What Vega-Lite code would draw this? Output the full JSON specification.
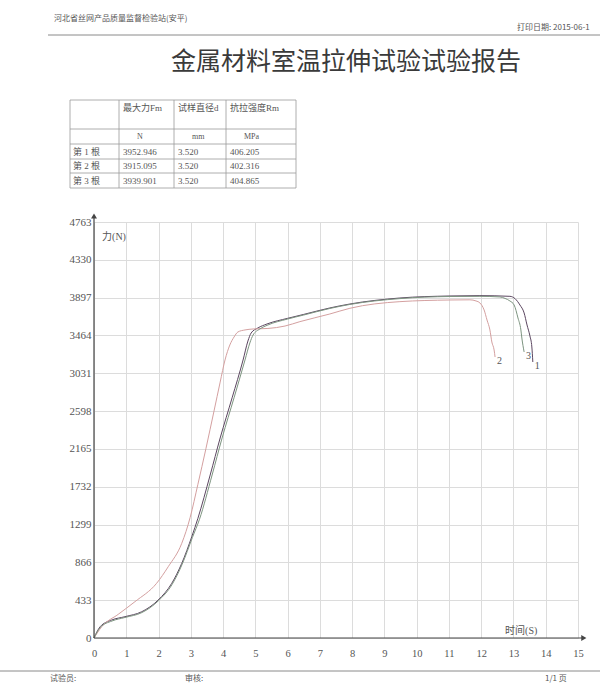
{
  "$schema": "https://vega.github.io/schema/vega-lite/v6.json",
  "width": 484,
  "height": 416,
  "autosize": {"type": "none"},
  "padding": {"left": 94, "top": 222, "right": 22, "bottom": 62},
  "background": "white",
  "config": {"view": {"stroke": null}},
  "datasets": {
    "曲线": [
      {"试样": "1", "t": 0, "F": 0}, {"试样": "1", "t": 0.19, "F": 129}, {"试样": "1", "t": 0.55, "F": 206}, {"试样": "1", "t": 0.96, "F": 244},
      {"试样": "1", "t": 1.48, "F": 301}, {"试样": "1", "t": 1.99, "F": 435}, {"试样": "1", "t": 2.41, "F": 626}, {"试样": "1", "t": 2.72, "F": 855},
      {"试样": "1", "t": 3.03, "F": 1160}, {"试样": "1", "t": 3.22, "F": 1370}, {"试样": "1", "t": 3.6, "F": 1866}, {"试样": "1", "t": 3.91, "F": 2290},
      {"试样": "1", "t": 4.28, "F": 2750}, {"试样": "1", "t": 4.62, "F": 3183}, {"试样": "1", "t": 4.77, "F": 3400}, {"试样": "1", "t": 4.87, "F": 3492},
      {"试样": "1", "t": 5.08, "F": 3550}, {"试样": "1", "t": 5.36, "F": 3595}, {"试样": "1", "t": 6.0, "F": 3660}, {"试样": "1", "t": 6.5, "F": 3705},
      {"试样": "1", "t": 7.31, "F": 3779}, {"试样": "1", "t": 7.93, "F": 3824}, {"试样": "1", "t": 9.48, "F": 3893}, {"试样": "1", "t": 11.03, "F": 3916},
      {"试样": "1", "t": 11.96, "F": 3920}, {"试样": "1", "t": 12.89, "F": 3912}, {"试样": "1", "t": 13.05, "F": 3885}, {"试样": "1", "t": 13.2, "F": 3813},
      {"试样": "1", "t": 13.33, "F": 3722}, {"试样": "1", "t": 13.42, "F": 3584}, {"试样": "1", "t": 13.51, "F": 3458}, {"试样": "1", "t": 13.57, "F": 3332},
      {"试样": "1", "t": 13.6, "F": 3160},
      {"试样": "2", "t": 0, "F": 0}, {"试样": "2", "t": 0.24, "F": 129}, {"试样": "2", "t": 0.75, "F": 271}, {"试样": "2", "t": 1.27, "F": 416},
      {"试样": "2", "t": 1.94, "F": 626}, {"试样": "2", "t": 2.3, "F": 816}, {"试样": "2", "t": 2.72, "F": 1084}, {"试样": "2", "t": 2.98, "F": 1380},
      {"试样": "2", "t": 3.22, "F": 1760}, {"试样": "2", "t": 3.47, "F": 2170}, {"试样": "2", "t": 3.72, "F": 2600}, {"试样": "2", "t": 3.91, "F": 2930},
      {"试样": "2", "t": 4.06, "F": 3183}, {"试样": "2", "t": 4.21, "F": 3355}, {"试样": "2", "t": 4.34, "F": 3446}, {"试样": "2", "t": 4.46, "F": 3504},
      {"试样": "2", "t": 4.68, "F": 3527}, {"试样": "2", "t": 4.93, "F": 3538}, {"试样": "2", "t": 5.39, "F": 3544}, {"试样": "2", "t": 5.92, "F": 3572},
      {"试样": "2", "t": 6.38, "F": 3622}, {"试样": "2", "t": 7.31, "F": 3710}, {"试样": "2", "t": 7.93, "F": 3775}, {"试样": "2", "t": 9.48, "F": 3851},
      {"试样": "2", "t": 11.03, "F": 3870}, {"试样": "2", "t": 11.65, "F": 3872}, {"试样": "2", "t": 11.84, "F": 3859}, {"试样": "2", "t": 11.96, "F": 3836},
      {"试样": "2", "t": 12.09, "F": 3756}, {"试样": "2", "t": 12.18, "F": 3641}, {"试样": "2", "t": 12.27, "F": 3527}, {"试样": "2", "t": 12.33, "F": 3389},
      {"试样": "2", "t": 12.4, "F": 3298}, {"试样": "2", "t": 12.43, "F": 3217},
      {"试样": "3", "t": 0, "F": 0}, {"试样": "3", "t": 0.19, "F": 120}, {"试样": "3", "t": 0.56, "F": 195}, {"试样": "3", "t": 0.96, "F": 235},
      {"试样": "3", "t": 1.49, "F": 292}, {"试样": "3", "t": 1.99, "F": 424}, {"试样": "3", "t": 2.42, "F": 613}, {"试样": "3", "t": 2.73, "F": 842},
      {"试样": "3", "t": 3.05, "F": 1151}, {"试样": "3", "t": 3.27, "F": 1360}, {"试样": "3", "t": 3.66, "F": 1866}, {"试样": "3", "t": 3.97, "F": 2290},
      {"试样": "3", "t": 4.34, "F": 2750}, {"试样": "3", "t": 4.68, "F": 3183}, {"试样": "3", "t": 4.83, "F": 3378}, {"试样": "3", "t": 4.93, "F": 3469},
      {"试样": "3", "t": 5.14, "F": 3538}, {"试样": "3", "t": 5.39, "F": 3584}, {"试样": "3", "t": 6.0, "F": 3652}, {"试样": "3", "t": 6.5, "F": 3698},
      {"试样": "3", "t": 7.31, "F": 3773}, {"试样": "3", "t": 7.93, "F": 3819}, {"试样": "3", "t": 9.48, "F": 3886}, {"试样": "3", "t": 11.03, "F": 3910},
      {"试样": "3", "t": 11.96, "F": 3912}, {"试样": "3", "t": 12.58, "F": 3905}, {"试样": "3", "t": 12.74, "F": 3888}, {"试样": "3", "t": 12.89, "F": 3859},
      {"试样": "3", "t": 13.02, "F": 3813}, {"试样": "3", "t": 13.14, "F": 3664}, {"试样": "3", "t": 13.23, "F": 3527}, {"试样": "3", "t": 13.26, "F": 3435},
      {"试样": "3", "t": 13.33, "F": 3275}
    ]
  },
  "layer": [
    {
      "layer": [
        {
          "data": {"name": "曲线"},
          "mark": {"type": "line", "strokeWidth": 1, "interpolate": "monotone"},
          "encoding": {
            "x": {
              "field": "t", "type": "quantitative",
              "scale": {"domain": [0, 15], "nice": false, "zero": false},
              "axis": {
                "values": [0, 1, 2, 3, 4, 5, 6, 7, 8, 9, 10, 11, 12, 13, 14, 15], "tickCount": 40,
                "format": "d", "title": null, "grid": true, "gridColor": "#dcdcdc", "gridWidth": 1,
                "domain": false, "ticks": false, "tickSize": 0, "labelPadding": 10, "labelOverlap": false, "labelBound": false, "labelFlush": false,
                "labelFont": "Liberation Serif", "labelFontSize": 10.5, "labelColor": "#555"
              }
            },
            "y": {
              "field": "F", "type": "quantitative",
              "scale": {"domain": [0, 4763], "nice": false, "zero": false},
              "axis": {
                "values": [0, 433, 866, 1299, 1732, 2165, 2598, 3031, 3464, 3897, 4330, 4763], "tickCount": 40,
                "format": "d", "title": null, "grid": true, "gridColor": "#dcdcdc", "gridWidth": 1,
                "domain": false, "ticks": false, "tickSize": 0, "labelPadding": 3, "labelOverlap": false, "labelBound": false, "labelFlush": false,
                "labelFont": "Liberation Serif", "labelFontSize": 11, "labelColor": "#555"
              }
            },
            "color": {
              "field": "试样", "type": "nominal",
              "scale": {"domain": ["1", "2", "3"], "range": ["#5b4660", "#d4a0a0", "#7d9480"]},
              "legend": null
            }
          }
        },
        {
          "data": {"name": "曲线"},
          "transform": [{"aggregate": [{"op": "argmax", "field": "t", "as": "末"}], "groupby": ["试样"]}],
          "mark": {"type": "text", "align": "left", "baseline": "middle", "dx": 2, "dy": 4, "font": "Liberation Serif", "fontSize": 10, "color": "#555"},
          "encoding": {
            "x": {"field": "末.t", "type": "quantitative", "axis": {"title": null}},
            "y": {"field": "末.F", "type": "quantitative", "axis": {"title": null}},
            "text": {"field": "试样"}
          }
        },
        {
          "data": {"values": [{}]},
          "mark": {"type": "rule", "color": "#444", "strokeWidth": 1.2},
          "encoding": {"x": {"datum": 0}, "y": {"datum": 0}, "y2": {"datum": 4830}}
        },
        {
          "data": {"values": [{}]},
          "mark": {"type": "rule", "color": "#444", "strokeWidth": 1.2},
          "encoding": {"y": {"datum": 0}, "x": {"datum": 0}, "x2": {"datum": 15.15}}
        },
        {
          "data": {"values": [{}]},
          "mark": {"type": "point", "shape": "triangle-up", "filled": true, "size": 35, "color": "#444", "opacity": 1},
          "encoding": {"x": {"datum": 0}, "y": {"datum": 4832}}
        },
        {
          "data": {"values": [{}]},
          "mark": {"type": "point", "shape": "triangle-right", "filled": true, "size": 35, "color": "#444", "opacity": 1},
          "encoding": {"x": {"datum": 15.18}, "y": {"datum": 0}}
        },
        {
          "data": {"values": [{"文本": "力(N)"}]},
          "mark": {"type": "text", "align": "left", "baseline": "middle", "font": "Liberation Serif, Noto Sans CJK SC", "fontSize": 10, "color": "#555"},
          "encoding": {"x": {"datum": 0.25}, "y": {"datum": 4591}, "text": {"field": "文本"}}
        },
        {
          "data": {"values": [{"文本": "时间(S)"}]},
          "mark": {"type": "text", "align": "left", "baseline": "middle", "font": "Liberation Serif, Noto Sans CJK SC", "fontSize": 10, "color": "#555"},
          "encoding": {"x": {"datum": 12.74}, "y": {"datum": 80}, "text": {"field": "文本"}}
        }
      ]
    },
    {
      "layer": [
        {
          "data": {"values": [{"竖": 0}, {"竖": 1}, {"竖": 2}, {"竖": 3}, {"竖": 4}]},
          "mark": {"type": "rule", "color": "#9a9a9a", "strokeWidth": 0.8},
          "encoding": {
            "x": {"field": "竖", "type": "quantitative", "scale": {"domain": [0, 1, 2, 3, 4], "range": [-24, 25, 80, 132, 202], "nice": false, "zero": false}, "axis": null},
            "y": {"datum": 0, "scale": {"domain": [0, 1, 2, 3, 4, 5], "range": [-122, -93, -78, -63, -49, -34], "nice": false, "zero": false}, "axis": null},
            "y2": {"datum": 5}
          }
        },
        {
          "data": {"values": [{"横": 0}, {"横": 1}, {"横": 2}, {"横": 3}, {"横": 4}, {"横": 5}]},
          "mark": {"type": "rule", "color": "#9a9a9a", "strokeWidth": 0.8},
          "encoding": {
            "y": {"field": "横", "type": "quantitative", "scale": {"domain": [0, 1, 2, 3, 4, 5], "range": [-122, -93, -78, -63, -49, -34], "nice": false, "zero": false}, "axis": null},
            "x": {"datum": 0, "scale": {"domain": [0, 1, 2, 3, 4], "range": [-24, 25, 80, 132, 202], "nice": false, "zero": false}, "axis": null},
            "x2": {"datum": 4}
          }
        }
      ]
    },
    {
      "layer": [
        {
          "data": {"values": [
            {"行": 0, "列": 1, "文本": "最大力Fm"}, {"行": 0, "列": 2, "文本": "试样直径d"}, {"行": 0, "列": 3, "文本": "抗拉强度Rm"},
            {"行": 2, "列": 0, "文本": "第 1 根"}, {"行": 2, "列": 1, "文本": "3952.946"}, {"行": 2, "列": 2, "文本": "3.520"}, {"行": 2, "列": 3, "文本": "406.205"},
            {"行": 3, "列": 0, "文本": "第 2 根"}, {"行": 3, "列": 1, "文本": "3915.095"}, {"行": 3, "列": 2, "文本": "3.520"}, {"行": 3, "列": 3, "文本": "402.316"},
            {"行": 4, "列": 0, "文本": "第 3 根"}, {"行": 4, "列": 1, "文本": "3939.901"}, {"行": 4, "列": 2, "文本": "3.520"}, {"行": 4, "列": 3, "文本": "404.865"}
          ]},
          "mark": {"type": "text", "align": "left", "baseline": "middle", "font": "Liberation Serif, Noto Sans CJK SC", "fontSize": 9, "color": "#555"},
          "encoding": {
            "x": {"field": "列", "type": "quantitative", "scale": {"domain": [0, 1, 2, 3], "range": [-21, 29, 84, 136], "nice": false, "zero": false}, "axis": null},
            "y": {"field": "行", "type": "quantitative", "scale": {"domain": [0, 1, 2, 3, 4], "range": [-114, -85.5, -70.5, -56, -41.5], "nice": false, "zero": false}, "axis": null},
            "text": {"field": "文本"}
          }
        },
        {
          "data": {"values": [{"行": 1, "列": 1, "文本": "N"}, {"行": 1, "列": 2, "文本": "mm"}, {"行": 1, "列": 3, "文本": "MPa"}]},
          "mark": {"type": "text", "align": "left", "baseline": "middle", "dx": 14, "font": "Liberation Serif", "fontSize": 8, "color": "#555"},
          "encoding": {
            "x": {"field": "列", "type": "quantitative", "scale": {"domain": [0, 1, 2, 3], "range": [-21, 29, 84, 136], "nice": false, "zero": false}, "axis": null},
            "y": {"field": "行", "type": "quantitative", "scale": {"domain": [0, 1, 2, 3, 4], "range": [-114, -85.5, -70.5, -56, -41.5], "nice": false, "zero": false}, "axis": null},
            "text": {"field": "文本"}
          }
        }
      ]
    },
    {
      "layer": [
        {
          "data": {"values": [
            {"位": 0, "文本": "河北省丝网产品质量监督检验站(安平)"},
            {"位": 1, "文本": "打印日期: 2015-06-1"},
            {"位": 3, "文本": "试验员:"},
            {"位": 4, "文本": "审核:"},
            {"位": 5, "文本": "1/1 页"}
          ]},
          "mark": {"type": "text", "align": "left", "baseline": "middle", "font": "Noto Sans CJK SC", "fontSize": 8, "color": "#555"},
          "encoding": {
            "x": {"field": "位", "type": "quantitative", "scale": {"domain": [0, 1, 2, 3, 4, 5, 6, 7, 8, 9], "range": [-40, 423, 252, -44, 91, 451, -46, 506, -94, 506], "nice": false, "zero": false}, "axis": null},
            "y": {"field": "位", "type": "quantitative", "scale": {"domain": [0, 1, 2, 3, 4, 5, 6, 7, 8, 9], "range": [-203, -194, -160, 457, 457, 457, -187, -187, 449, 449], "nice": false, "zero": false}, "axis": null},
            "text": {"field": "文本"}
          }
        },
        {
          "data": {"values": [{"位": 2, "文本": "金属材料室温拉伸试验试验报告"}]},
          "mark": {"type": "text", "align": "center", "baseline": "middle", "font": "Noto Sans CJK SC", "fontSize": 25, "color": "#3a3a3a"},
          "encoding": {
            "x": {"field": "位", "type": "quantitative", "scale": {"domain": [0, 1, 2, 3, 4, 5, 6, 7, 8, 9], "range": [-40, 423, 252, -44, 91, 451, -46, 506, -94, 506], "nice": false, "zero": false}, "axis": null},
            "y": {"field": "位", "type": "quantitative", "scale": {"domain": [0, 1, 2, 3, 4, 5, 6, 7, 8, 9], "range": [-203, -194, -160, 457, 457, 457, -187, -187, 449, 449], "nice": false, "zero": false}, "axis": null},
            "text": {"field": "文本"}
          }
        },
        {
          "data": {"values": [{"起": 6, "止": 7}, {"起": 8, "止": 9}]},
          "mark": {"type": "rule", "color": "#8a8a8a", "strokeWidth": 1},
          "encoding": {
            "x": {"field": "起", "type": "quantitative", "scale": {"domain": [0, 1, 2, 3, 4, 5, 6, 7, 8, 9], "range": [-40, 423, 252, -44, 91, 451, -46, 506, -94, 506], "nice": false, "zero": false}, "axis": null},
            "x2": {"field": "止"},
            "y": {"field": "起", "type": "quantitative", "scale": {"domain": [0, 1, 2, 3, 4, 5, 6, 7, 8, 9], "range": [-203, -194, -160, 457, 457, 457, -187, -187, 449, 449], "nice": false, "zero": false}, "axis": null}
          }
        }
      ]
    }
  ],
  "resolve": {
    "scale": {"x": "independent", "y": "independent"},
    "axis": {"x": "independent", "y": "independent"}
  }
}
